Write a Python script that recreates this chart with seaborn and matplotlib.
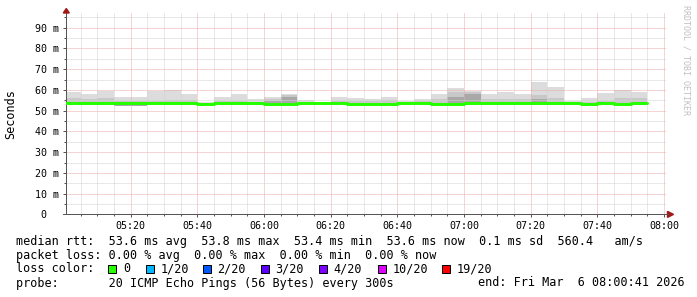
import matplotlib
matplotlib.use("Agg")
import numpy as np
import pandas as pd
import matplotlib.pyplot as plt
import seaborn as sns
from matplotlib.patches import Polygon, Rectangle

# ---------------- data ----------------
bar_start = ["05:00", "05:05", "05:10", "05:15", "05:20", "05:25", "05:30", "05:35",
             "05:40", "05:45", "05:50", "05:55", "06:00", "06:05", "06:10", "06:15",
             "06:20", "06:25", "06:30", "06:35", "06:40", "06:45", "06:50", "06:55",
             "07:00", "07:05", "07:10", "07:15", "07:20", "07:25", "07:30", "07:35",
             "07:40", "07:45", "07:50"]
median_ms = [53.8, 53.8, 53.8, 53.8, 53.8, 53.8, 53.8, 53.8, 53.4, 53.8, 53.8, 53.8,
             53.4, 53.4, 53.8, 53.8, 53.8, 53.4, 53.4, 53.4, 53.8, 53.8, 53.4, 53.4,
             53.8, 53.8, 53.8, 53.8, 53.8, 53.8, 53.8, 53.4, 53.8, 53.4, 53.8]
smoke_max_ms = [59.2, 58.2, 59.7, 56.8, 56.8, 59.7, 59.9, 58.2, 54.0, 56.5, 58.1, 55.7,
                56.7, 57.8, 55.2, 54.4, 56.7, 56.2, 55.7, 56.7, 54.8, 55.7, 58.1, 60.8,
                59.7, 58.1, 59.0, 58.1, 63.8, 61.4, 54.8, 56.2, 58.7, 60.0, 59.2]
smoke_mid_ms = [56.2, 55.4, 56.0, 54.5, 54.5, 54.8, 55.0, 55.2, 53.9, 54.5, 54.6, 54.4,
                55.4, 57.3, 54.4, 54.2, 54.8, 54.6, 54.5, 55.2, 54.4, 54.5, 55.4, 59.2,
                59.2, 55.8, 55.4, 55.4, 57.3, 56.2, 54.3, 54.3, 54.8, 56.0, 56.2]
smoke_core_ms = [53.0, 53.0, 52.6, 53.5, 53.5, 53.0, 54.4, 54.4, 53.0, 53.2, 53.2, 53.2,
                 54.8, 56.5, 53.2, 53.2, 53.2, 53.0, 53.0, 53.0, 53.2, 53.2, 53.0, 56.7,
                 57.8, 53.2, 53.2, 53.2, 55.4, 53.2, 53.2, 53.0, 53.2, 53.0, 53.2]
smoke_min_ms = [53.0, 53.0, 52.6, 52.3, 52.3, 53.0, 53.0, 53.0, 53.0, 53.2, 53.2, 53.2,
                53.0, 53.0, 53.2, 53.2, 53.2, 53.0, 53.0, 53.0, 53.2, 53.2, 53.0, 52.9,
                53.2, 53.2, 53.2, 53.2, 53.0, 53.2, 53.2, 53.0, 53.2, 53.0, 53.2]

y_ticks_ms = [0, 10, 20, 30, 40, 50, 60, 70, 80, 90]
y_tick_labels = ["0  ", "10 m", "20 m", "30 m", "40 m", "50 m", "60 m", "70 m", "80 m", "90 m"]
x_tick_times = ["05:20", "05:40", "06:00", "06:20", "06:40", "07:00", "07:20", "07:40", "08:00"]
view_start, view_end = "05:00:41", "08:00:41"

loss_labels = ["0", "1/20", "2/20", "3/20", "4/20", "10/20", "19/20"]
loss_colors = ["#26ff00", "#00b8ff", "#0059ff", "#5e00ff", "#7e00ff", "#dd00ff", "#ff0000"]

line_rtt = "median rtt:  53.6 ms avg  53.8 ms max  53.4 ms min  53.6 ms now  0.1 ms sd  560.4   am/s"
line_loss = "packet loss: 0.00 % avg  0.00 % max  0.00 % min  0.00 % now"
line_color = "loss color:"
line_probe = "probe:       20 ICMP Echo Pings (56 Bytes) every 300s"
line_end = "end: Fri Mar  6 08:00:41 2026"
watermark = "RRDTOOL / TOBI OETIKER"
y_title = "Seconds"


def to_min(s):
    p = [int(v) for v in s.split(":")]
    sec = p[2] if len(p) > 2 else 0
    return (p[0] - 5) * 60 + p[1] + sec / 60.0


# ---------------- figure ----------------
sns.set_theme(style="white")
plt.rcParams["font.family"] = ["DejaVu Sans Mono", "DejaVu Sans"]
plt.rcParams["lines.scale_dashes"] = False

W, H = 697, 297
fig = plt.figure(figsize=(W / 100, H / 100), dpi=100, facecolor="white")

AX_L, AX_R, AX_TOP, AX_BOT = 66.3, 666.3, 13.1, 214.4
ax = fig.add_axes([AX_L / W, 1 - AX_BOT / H, (AX_R - AX_L) / W, (AX_BOT - AX_TOP) / H])
ax.set_facecolor("white")


def fx(x):
    return x / W


def fy(y):
    return 1 - y / H


starts = np.array([to_min(s) for s in bar_start])
df = pd.DataFrame({"t": starts, "med": median_ms, "mx": smoke_max_ms, "mid": smoke_mid_ms,
                   "core": smoke_core_ms, "mn": smoke_min_ms})

ax.bar(df["t"], df["mx"] - df["mn"], bottom=df["mn"], width=5, align="edge",
       color="#dcdcdc", linewidth=0, zorder=1)
ax.bar(df["t"], df["mid"] - df["mn"], bottom=df["mn"], width=5, align="edge",
       color="#c8c8c8", linewidth=0, zorder=1.1)
ax.bar(df["t"], df["core"] - df["mn"], bottom=df["mn"], width=5, align="edge",
       color="#a8a8a8", linewidth=0, zorder=1.2)

# grid (dotted)
minor_c, major_c = "#d2d2d2", "#eeaaaa"
dots = (0, (0.72, 0.72))
for m in range(5, 181, 5):
    c = major_c if m % 20 == 0 else minor_c
    ax.axvline(m, color=c, lw=0.72, ls=dots, zorder=2, antialiased=True)
for v in range(5, 97, 5):
    c = major_c if v % 10 == 0 else minor_c
    ax.axhline(v, color=c, lw=0.72, ls=dots, zorder=2, antialiased=True)

# median line
step_df = pd.DataFrame({"t": list(starts) + [starts[-1] + 5], "med": median_ms + [median_ms[-1]]})
sns.lineplot(data=step_df, x="t", y="med", drawstyle="steps-post", color="#26ff00",
             linewidth=2.16, estimator=None, ax=ax, zorder=3)

ax.set_xlim(to_min(view_start), to_min(view_end))
ax.set_ylim(0, 97)
ax.set_xlabel("")
ax.set_ylabel("")
ax.set_xticks([to_min(s) for s in x_tick_times])
ax.set_xticklabels(x_tick_times)
ax.set_xticks(np.arange(5, 181, 5), minor=True)
ax.set_yticks(y_ticks_ms)
ax.set_yticklabels(y_tick_labels)
ax.set_yticks(np.arange(5, 97, 5), minor=True)
ax.tick_params(axis="both", which="major", labelsize=7.2, colors="#555555", labelcolor="black",
               length=2, width=0.72, direction="out")
ax.tick_params(axis="x", which="major", pad=2.5)
ax.tick_params(axis="y", which="major", pad=3.0)
ax.tick_params(axis="both", which="minor", length=1.5, width=0.72, colors="#555555", direction="out")
ax.tick_params(bottom=True, left=True, which="both")
for side in ["top", "right"]:
    ax.spines[side].set_visible(False)
for side in ["left", "bottom"]:
    ax.spines[side].set_color("#555555")
    ax.spines[side].set_linewidth(0.72)

# axis extensions and arrows
arrow_c = "#a01818"
fig.add_artist(plt.Line2D([fx(AX_L - 3.5), fx(AX_L)], [fy(AX_BOT), fy(AX_BOT)], color="#555555", lw=0.72))
fig.add_artist(plt.Line2D([fx(AX_R), fx(668)], [fy(AX_BOT), fy(AX_BOT)], color="#555555", lw=0.72))
fig.add_artist(Polygon([[fx(667.5), fy(AX_BOT - 3)], [fx(667.5), fy(AX_BOT + 3)], [fx(673.5), fy(AX_BOT)]],
                       closed=True, color=arrow_c, transform=fig.transFigure))
fig.add_artist(Polygon([[fx(AX_L - 3), fy(13.0)], [fx(AX_L + 3), fy(13.0)], [fx(AX_L), fy(8.5)]],
                       closed=True, color=arrow_c, transform=fig.transFigure))

# y title and watermark
fig.text(fx(11), fy(114), y_title, rotation=90, ha="center", va="center", fontsize=8.5, color="black")
fig.text(fx(686), fy(5), watermark, rotation=270, ha="center", va="top", fontsize=6, color="#c0c0c0")

# legend
LX, FS = 16, 8.5
fig.text(fx(LX), fy(241), line_rtt, ha="left", va="center", fontsize=FS, color="black")
fig.text(fx(LX), fy(255), line_loss, ha="left", va="center", fontsize=FS, color="black")
fig.text(fx(LX), fy(269), line_color, ha="left", va="center", fontsize=FS, color="black")
fig.text(fx(LX), fy(283), line_probe, ha="left", va="center", fontsize=FS, color="black")
fig.text(fx(478), fy(283), line_end, ha="left", va="center", fontsize=FS, color="black")

box_x = [108.3, 145.7, 203.0, 261.0, 318.5, 377.7, 441.7]
for bx, lab, col in zip(box_x, loss_labels, loss_colors):
    fig.add_artist(Rectangle((fx(bx), fy(273)), 8 / W, 8 / H, facecolor=col, edgecolor="black",
                             linewidth=0.72, transform=fig.transFigure))
    fig.text(fx(bx + 14.5), fy(269), lab, ha="left", va="center", fontsize=FS, color="black")

fig.savefig("out.png", dpi=100, facecolor="white")
